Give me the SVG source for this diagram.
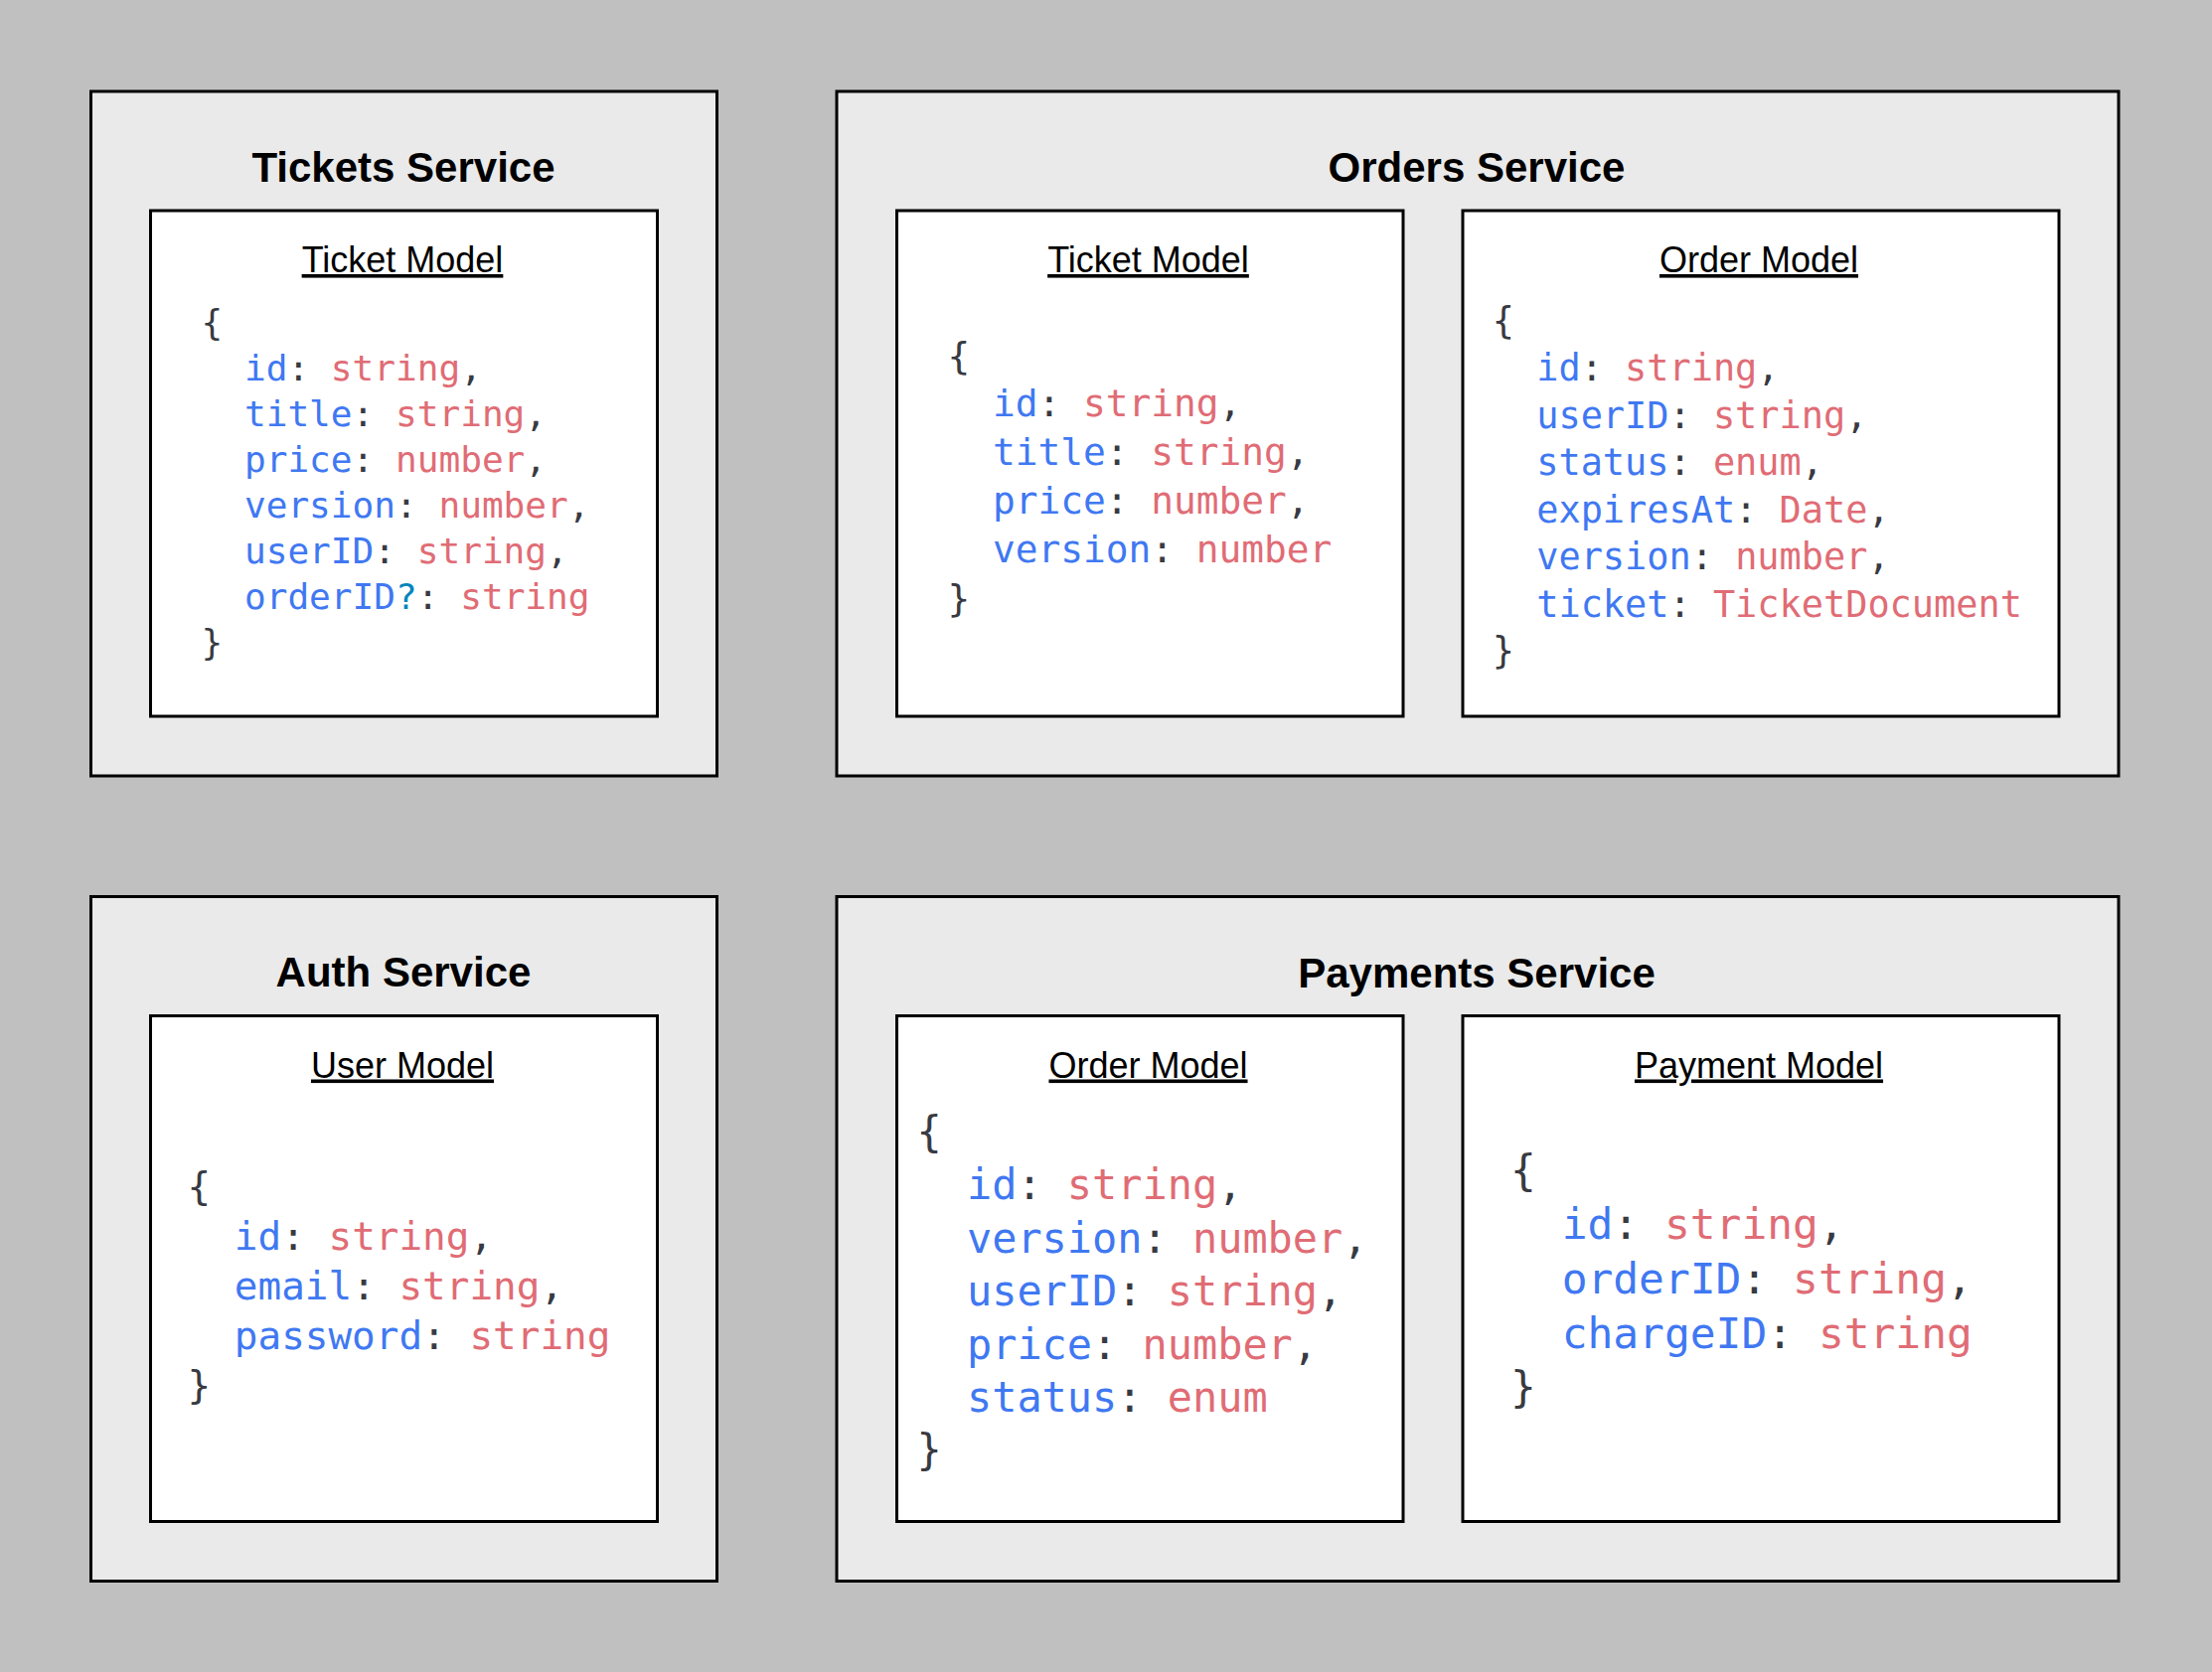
<svg xmlns="http://www.w3.org/2000/svg" width="2226" height="1683" viewBox="0 0 2226 1683">
<style>
.svc{fill:#eaeaea;stroke:#000;stroke-width:3}
.mdl{fill:#fff;stroke:#000;stroke-width:3}
.title{font-family:"Liberation Sans",Arial,sans-serif;font-weight:bold;font-size:42px;fill:#000;text-anchor:middle}
.label{font-family:"Liberation Sans",Arial,sans-serif;font-size:36px;fill:#000;text-anchor:middle;text-decoration:underline}
.code{font-family:"DejaVu Sans Mono",monospace;fill:#383a42;white-space:pre}
.k{fill:#4078f2}
.v{fill:#e06c75}
.q{fill:#0184bc}
</style>
<rect x="0" y="0" width="2226" height="1683" fill="#c0c0c0"/>

<g id="tickets-service">
<rect class="svc" x="91.5" y="92" width="630" height="689"/>
<text class="title" x="406" y="182.5">Tickets Service</text>
<g id="tickets-ticket-model">
<rect class="mdl" x="151.5" y="212" width="510" height="509"/>
<text class="label" x="405" y="274">Ticket Model</text>
<text class="code" xml:space="preserve" style="font-size:36.1px"><tspan x="202.5" y="336.7">{</tspan><tspan x="202.5" y="382.8">  <tspan class="k">id</tspan>: <tspan class="v">string</tspan>,</tspan><tspan x="202.5" y="428.9">  <tspan class="k">title</tspan>: <tspan class="v">string</tspan>,</tspan><tspan x="202.5" y="475">  <tspan class="k">price</tspan>: <tspan class="v">number</tspan>,</tspan><tspan x="202.5" y="521.1">  <tspan class="k">version</tspan>: <tspan class="v">number</tspan>,</tspan><tspan x="202.5" y="567.2">  <tspan class="k">userID</tspan>: <tspan class="v">string</tspan>,</tspan><tspan x="202.5" y="613.3">  <tspan class="k">orderID</tspan><tspan class="q">?</tspan>: <tspan class="v">string</tspan></tspan><tspan x="202.5" y="659.4">}</tspan></text>
</g>
</g>

<g id="orders-service">
<rect class="svc" x="842" y="92" width="1290" height="689"/>
<text class="title" x="1486" y="183">Orders Service</text>
<g id="orders-ticket-model">
<rect class="mdl" x="902.5" y="212" width="509.5" height="509"/>
<text class="label" x="1155.5" y="274">Ticket Model</text>
<text class="code" xml:space="preserve" style="font-size:37.8px"><tspan x="953.4" y="370.5">{</tspan><tspan x="953.4" y="419.3">  <tspan class="k">id</tspan>: <tspan class="v">string</tspan>,</tspan><tspan x="953.4" y="468.1">  <tspan class="k">title</tspan>: <tspan class="v">string</tspan>,</tspan><tspan x="953.4" y="516.9">  <tspan class="k">price</tspan>: <tspan class="v">number</tspan>,</tspan><tspan x="953.4" y="565.7">  <tspan class="k">version</tspan>: <tspan class="v">number</tspan></tspan><tspan x="953.4" y="614.5">}</tspan></text>
</g>
<g id="orders-order-model">
<rect class="mdl" x="1472" y="212" width="600" height="509"/>
<text class="label" x="1770" y="274">Order Model</text>
<text class="code" xml:space="preserve" style="font-size:36.9px"><tspan x="1501.8" y="335.8">{</tspan><tspan x="1501.8" y="383.3">  <tspan class="k">id</tspan>: <tspan class="v">string</tspan>,</tspan><tspan x="1501.8" y="430.8">  <tspan class="k">userID</tspan>: <tspan class="v">string</tspan>,</tspan><tspan x="1501.8" y="478.3">  <tspan class="k">status</tspan>: <tspan class="v">enum</tspan>,</tspan><tspan x="1501.8" y="525.8">  <tspan class="k">expiresAt</tspan>: <tspan class="v">Date</tspan>,</tspan><tspan x="1501.8" y="573.3">  <tspan class="k">version</tspan>: <tspan class="v">number</tspan>,</tspan><tspan x="1501.8" y="620.8">  <tspan class="k">ticket</tspan>: <tspan class="v">TicketDocument</tspan></tspan><tspan x="1501.8" y="668.3">}</tspan></text>
</g>
</g>

<g id="auth-service">
<rect class="svc" x="91.5" y="902.5" width="630" height="689"/>
<text class="title" x="406" y="993">Auth Service</text>
<g id="auth-user-model">
<rect class="mdl" x="151.5" y="1022.5" width="510" height="509"/>
<text class="label" x="405" y="1084.5">User Model</text>
<text class="code" xml:space="preserve" style="font-size:39.3px"><tspan x="188.5" y="1208.3">{</tspan><tspan x="188.5" y="1258.3">  <tspan class="k">id</tspan>: <tspan class="v">string</tspan>,</tspan><tspan x="188.5" y="1308.3">  <tspan class="k">email</tspan>: <tspan class="v">string</tspan>,</tspan><tspan x="188.5" y="1358.3">  <tspan class="k">password</tspan>: <tspan class="v">string</tspan></tspan><tspan x="188.5" y="1408.3">}</tspan></text>
</g>
</g>

<g id="payments-service">
<rect class="svc" x="842" y="902.5" width="1290" height="689"/>
<text class="title" x="1486" y="993.5">Payments Service</text>
<g id="payments-order-model">
<rect class="mdl" x="902.5" y="1022.5" width="509.5" height="509"/>
<text class="label" x="1155.5" y="1084.5">Order Model</text>
<text class="code" xml:space="preserve" style="font-size:41.9px"><tspan x="922.5" y="1153.9">{</tspan><tspan x="922.5" y="1207.3">  <tspan class="k">id</tspan>: <tspan class="v">string</tspan>,</tspan><tspan x="922.5" y="1260.7">  <tspan class="k">version</tspan>: <tspan class="v">number</tspan>,</tspan><tspan x="922.5" y="1314.1">  <tspan class="k">userID</tspan>: <tspan class="v">string</tspan>,</tspan><tspan x="922.5" y="1367.5">  <tspan class="k">price</tspan>: <tspan class="v">number</tspan>,</tspan><tspan x="922.5" y="1420.9">  <tspan class="k">status</tspan>: <tspan class="v">enum</tspan></tspan><tspan x="922.5" y="1474.3">}</tspan></text>
</g>
<g id="payments-payment-model">
<rect class="mdl" x="1472" y="1022.5" width="600" height="509"/>
<text class="label" x="1770" y="1084.5">Payment Model</text>
<text class="code" xml:space="preserve" style="font-size:42.9px"><tspan x="1520" y="1192.6">{</tspan><tspan x="1520" y="1247.3">  <tspan class="k">id</tspan>: <tspan class="v">string</tspan>,</tspan><tspan x="1520" y="1302">  <tspan class="k">orderID</tspan>: <tspan class="v">string</tspan>,</tspan><tspan x="1520" y="1356.7">  <tspan class="k">chargeID</tspan>: <tspan class="v">string</tspan></tspan><tspan x="1520" y="1411.4">}</tspan></text>
</g>
</g>

<g id="connectors"></g>
</svg>
